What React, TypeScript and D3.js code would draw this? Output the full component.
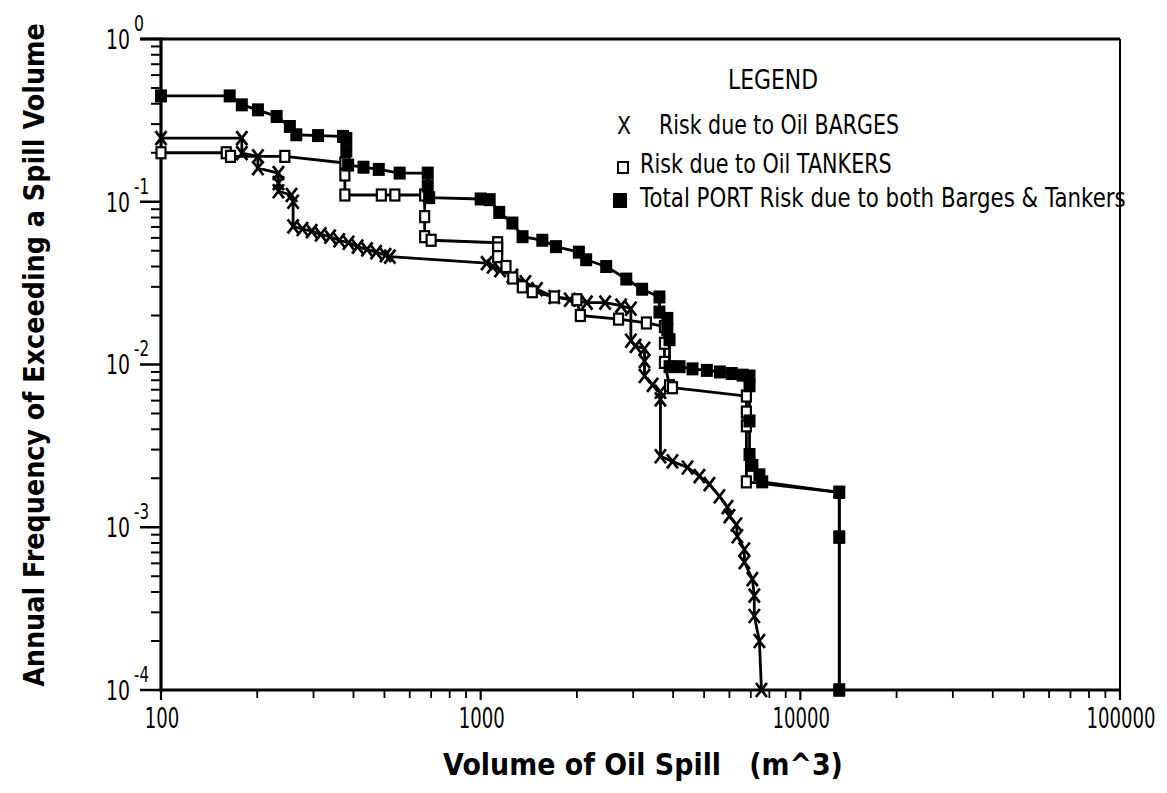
import * as d3 from 'd3';
import React, { useEffect, useRef } from 'react';

type Pt = [number, number]; // [spill volume m^3, annual exceedance frequency]

const bargeRisk: Pt[] = [
  [100, 0.246], [179, 0.246], [179, 0.199], [201, 0.19], [201, 0.161], [233, 0.15], [233, 0.13],
  [233, 0.116], [256, 0.11], [259, 0.1], [259, 0.0706], [277, 0.068], [296, 0.066], [316, 0.063],
  [338, 0.061], [361, 0.058], [386, 0.056], [412, 0.053], [441, 0.051], [471, 0.049], [504, 0.047],
  [520, 0.046], [1044, 0.042], [1090, 0.04], [1150, 0.038], [1257, 0.035], [1380, 0.032],
  [1500, 0.029], [1700, 0.026], [1900, 0.025], [2150, 0.024], [2450, 0.024], [2750, 0.023],
  [2950, 0.022], [2950, 0.014], [3050, 0.013], [3255, 0.0125], [3255, 0.0105], [3255, 0.0085],
  [3450, 0.0075], [3650, 0.0068], [3650, 0.0061], [3650, 0.00273], [3981, 0.00254], [4436, 0.00233],
  [4834, 0.00206], [5195, 0.00184], [5585, 0.00155], [5916, 0.00133], [6000, 0.00117], [6310, 0.00104],
  [6353, 0.00088], [6683, 0.00073], [6683, 0.00061], [7079, 0.00048], [7178, 0.00038], [7178, 0.000285],
  [7447, 0.0002], [7557, 0.0001],
];

const tankerRisk: Pt[] = [
  [100, 0.2], [160, 0.2], [165, 0.19], [244, 0.19], [376, 0.173], [376, 0.146], [376, 0.11],
  [489, 0.11], [539, 0.11], [668, 0.11], [668, 0.081], [668, 0.061], [700, 0.058], [1130, 0.056],
  [1130, 0.052], [1130, 0.046], [1200, 0.04], [1260, 0.034], [1350, 0.03], [1450, 0.028],
  [1700, 0.026], [2000, 0.025], [2050, 0.02], [2700, 0.019], [3300, 0.018], [3758, 0.0171],
  [3758, 0.0135], [3758, 0.0103], [3898, 0.0074], [3981, 0.0072], [6780, 0.0064], [6780, 0.0051],
  [6780, 0.0042], [6780, 0.0019], [13240, 0.00164], [13240, 0.00087], [13240, 0.0001],
];

const portRisk: Pt[] = [
  [100, 0.447], [164, 0.447], [179, 0.394], [201, 0.367], [230, 0.334], [253, 0.29], [265, 0.258],
  [310, 0.255], [371, 0.252], [380, 0.245], [380, 0.205], [385, 0.168], [430, 0.163], [480, 0.158],
  [558, 0.15], [683, 0.15], [683, 0.125], [690, 0.106], [1000, 0.104], [1067, 0.103], [1143, 0.086],
  [1257, 0.074], [1352, 0.061], [1559, 0.058], [1720, 0.053], [2029, 0.049], [2138, 0.044],
  [2470, 0.04], [2855, 0.0335], [3200, 0.029], [3625, 0.026], [3625, 0.021], [3837, 0.0192],
  [3837, 0.0164], [3898, 0.0142], [3898, 0.0097], [4189, 0.0097], [4600, 0.0094], [5100, 0.0092],
  [5600, 0.009], [6100, 0.0088], [6600, 0.0086], [6935, 0.0085], [6935, 0.0074], [6935, 0.0045],
  [6935, 0.0028], [7079, 0.0024], [7447, 0.0021], [7600, 0.0019], [13240, 0.00164], [13240, 0.00087],
  [13240, 0.0001],
];

const volumeTicks = [100, 1000, 10000, 100000];
const freqExponents = [0, -1, -2, -3, -4];
const legendLabels = [
  'Risk due to Oil BARGES',
  'Risk due to Oil TANKERS',
  'Total PORT Risk due to both Barges & Tankers',
];

const W = 1167;
const H = 793;
const FONT = "'DejaVu Sans', sans-serif";

export default function App() {
  const svgRef = useRef<SVGSVGElement>(null);

  const x = d3.scaleLog().domain([100, 100000]).range([161, 1120]);
  const y = d3.scaleLog().domain([1e-4, 1]).range([690, 39]);

  const line = d3
    .line<Pt>()
    .x((d) => x(d[0]))
    .y((d) => y(d[1]));

  const xMinor: number[] = [];
  [100, 1000, 10000].forEach((d) => d3.range(2, 10).forEach((k) => xMinor.push(k * d)));
  const yMinor: number[] = [];
  [1e-4, 1e-3, 1e-2, 1e-1].forEach((d) => d3.range(2, 10).forEach((k) => yMinor.push(k * d)));

  // squeeze texts horizontally to the narrow plotter lettering of the original
  useEffect(() => {
    d3.select(svgRef.current)
      .selectAll<SVGTextElement, unknown>('text[data-w]')
      .each(function () {
        const w = +(this.getAttribute('data-w') as string);
        const len = this.getComputedTextLength();
        const ax = +(this.getAttribute('x') ?? 0);
        const ay = +(this.getAttribute('y') ?? 0);
        const pre = this.getAttribute('data-t') ?? '';
        if (len > 0) {
          this.setAttribute(
            'transform',
            `${pre} translate(${ax},${ay}) scale(${w / len},1) translate(${-ax},${-ay})`,
          );
        }
      });
  }, []);

  return (
    <svg
      ref={svgRef}
      width={W}
      height={H}
      style={{ position: 'absolute', left: 0, top: 0, background: '#fff' }}
      fontFamily={FONT}
    >
      {/* frame */}
      <g stroke="#000" fill="none">
        <line x1={x(100)} x2={x(100)} y1={y(1) - 1.5} y2={y(1e-4) + 1.5} strokeWidth={3.2} />
        <line x1={x(100) - 1.5} x2={x(100000)} y1={y(1e-4)} y2={y(1e-4)} strokeWidth={3.2} />
        <line x1={x(100) - 21} x2={x(100000)} y1={y(1)} y2={y(1)} strokeWidth={3} />
        <line x1={x(100000)} x2={x(100000)} y1={y(1)} y2={y(1e-4)} strokeWidth={2} />
      </g>

      {/* y ticks */}
      <g stroke="#000">
        {yMinor.map((v) => (
          <line key={v} x1={x(100) - 10} x2={x(100)} y1={y(v)} y2={y(v)} strokeWidth={2} />
        ))}
        {freqExponents.map((e) => (
          <line key={e} x1={x(100) - 21} x2={x(100)} y1={y(10 ** e)} y2={y(10 ** e)} strokeWidth={2.5} />
        ))}
      </g>
      {freqExponents.map((e) => (
        <g key={e}>
          <text x={106} y={y(10 ** e) + 10} fontSize={27} data-w={24}>
            10
          </text>
          <text x={134} y={y(10 ** e) - 8} fontSize={21} data-w={e === 0 ? 10 : 15}>
            {e === 0 ? '0' : `-${-e}`}
          </text>
        </g>
      ))}

      {/* x ticks */}
      <g stroke="#000">
        {xMinor.map((v) => (
          <line key={v} x1={x(v)} x2={x(v)} y1={y(1e-4)} y2={y(1e-4) + 8} strokeWidth={1.8} />
        ))}
        {volumeTicks.map((v) => (
          <line key={v} x1={x(v)} x2={x(v)} y1={y(1e-4)} y2={y(1e-4) + 10} strokeWidth={2.2} />
        ))}
      </g>
      {volumeTicks.map((v) => {
        const s = String(v);
        return (
          <text key={v} x={x(v) + 1} y={728} fontSize={29} textAnchor="middle" data-w={s.length * 11.5}>
            {s}
          </text>
        );
      })}

      {/* axis titles */}
      <text x={643} y={775} fontSize={30} fontWeight="bold" textAnchor="middle" data-w={400} style={{ whiteSpace: 'pre' }}>
        {'Volume of Oil Spill   (m^3)'}
      </text>
      <text x={0} y={0} data-t="translate(44,355) rotate(-90)" fontSize={28} fontWeight="bold" textAnchor="middle" data-w={664}>
        Annual Frequency of Exceeding a Spill Volume
      </text>

      {/* series lines */}
      <g fill="none" stroke="#000" strokeWidth={2.8} strokeLinejoin="round">
        <path d={line(bargeRisk) ?? ''} />
        <path d={line(tankerRisk) ?? ''} />
        <path d={line(portRisk) ?? ''} />
      </g>

      {/* markers */}
      <g stroke="#000" strokeWidth={2.7} fill="none">
        {bargeRisk.map((d, i) => (
          <path key={i} transform={`translate(${x(d[0])},${y(d[1])})`} d="M-5.5,-7L5.5,7M5.5,-7L-5.5,7" />
        ))}
      </g>
      <g stroke="#000" strokeWidth={2.2} fill="#fff">
        {tankerRisk.map((d, i) => (
          <rect key={i} x={x(d[0]) - 4.5} y={y(d[1]) - 5.5} width={9} height={11} />
        ))}
      </g>
      <g fill="#000">
        {portRisk.map((d, i) => (
          <rect key={i} x={x(d[0]) - 6} y={y(d[1]) - 6.5} width={12} height={13} />
        ))}
      </g>

      {/* legend */}
      <text x={773} y={89} fontSize={27} textAnchor="middle" data-w={90}>
        LEGEND
      </text>
      <text x={617} y={134} fontSize={25} data-w={14}>
        X
      </text>
      <rect x={618} y={162} width={10} height={11} fill="#fff" stroke="#000" strokeWidth={2} />
      <rect x={613} y={193} width={14} height={15} fill="#000" />
      {legendLabels.map((t, i) => (
        <text key={t} x={i === 0 ? 659 : 640} y={[134, 173, 207][i]} fontSize={27} data-w={[240, 252, 486][i]}>
          {t}
        </text>
      ))}
    </svg>
  );
}
